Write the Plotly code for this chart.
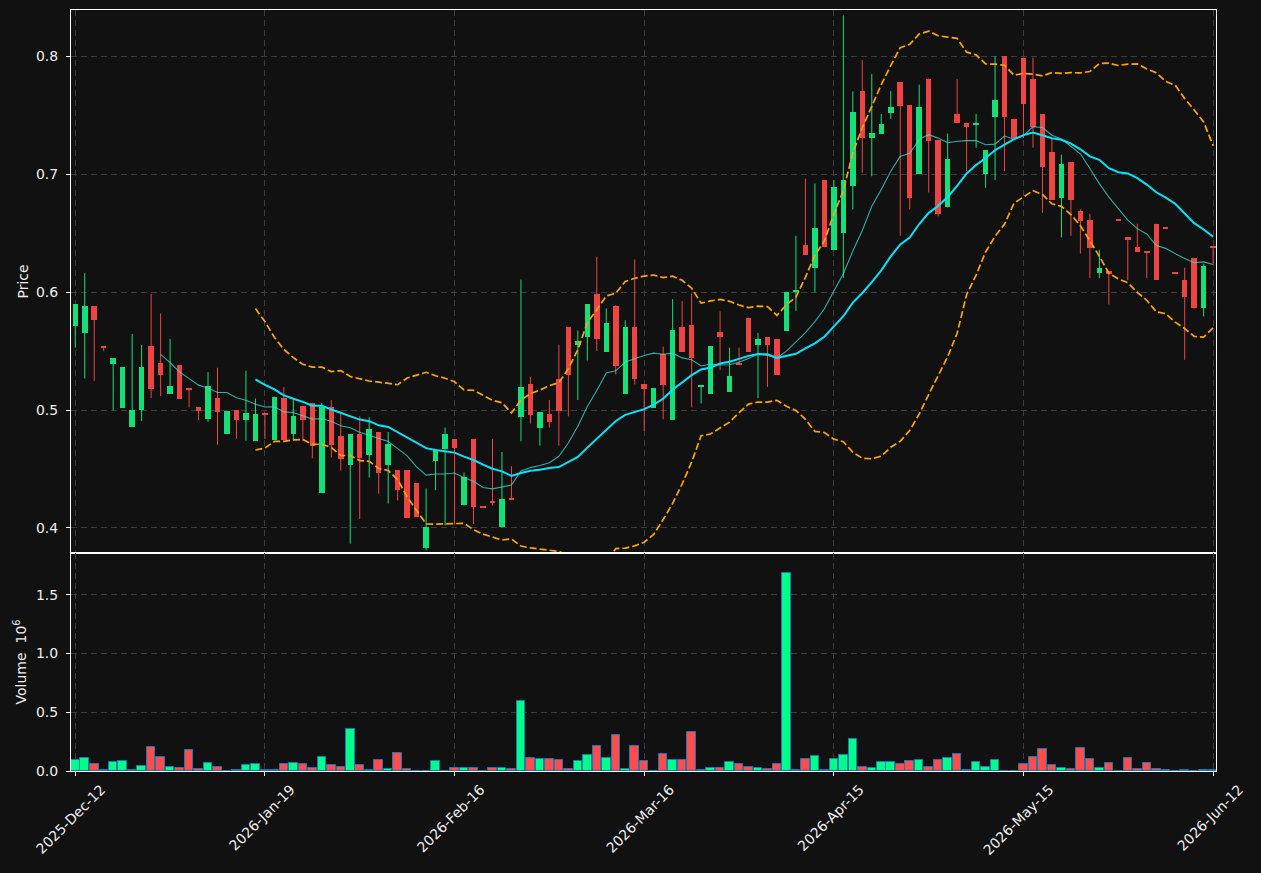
import pandas as pd
import plotly.graph_objects as go
from plotly.subplots import make_subplots

tick_index = [0, 20, 40, 60, 80, 100, 120]
tick_labels = ["2025-Dec-12", "2026-Jan-19", "2026-Feb-16", "2026-Mar-16",
               "2026-Apr-15", "2026-May-15", "2026-Jun-12"]

opens = [0.5715, 0.5657, 0.5882, 0.5537, 0.5392, 0.5018, 0.4856, 0.4997, 0.5541, 0.5400,
         0.5138, 0.5379, 0.5184, 0.5022, 0.4926, 0.5101, 0.4798, 0.4997, 0.4918, 0.4739,
         0.4966, 0.4748, 0.5101, 0.4798, 0.5038, 0.5059, 0.4295, 0.5022, 0.4781, 0.4532,
         0.4798, 0.4615, 0.4814, 0.4532, 0.4490, 0.4490, 0.4378, 0.3826, 0.4565, 0.4673,
         0.4752, 0.4191, 0.4752, 0.4179, 0.4229, 0.4004, 0.4253, 0.4943, 0.5217, 0.4847,
         0.4964, 0.5263, 0.5703, 0.5549, 0.5616, 0.5985, 0.5495, 0.5882, 0.5138, 0.5703,
         0.5217, 0.5018, 0.5474, 0.4918, 0.5703, 0.5720, 0.5196, 0.5138, 0.5662, 0.5155,
         0.5392, 0.5782, 0.5549, 0.5620, 0.5603, 0.5670, 0.6002, 0.6401, 0.6201, 0.6949,
         0.6355, 0.6500, 0.6899, 0.7705, 0.7302, 0.7344, 0.7522, 0.7780, 0.7585, 0.7001,
         0.7809, 0.7290, 0.6717, 0.7510, 0.7435, 0.7418, 0.7001, 0.7481, 0.8000, 0.7468,
         0.7988, 0.7809, 0.7510, 0.7186, 0.6800, 0.7099, 0.6683, 0.6608, 0.6160, 0.6181,
         0.6610, 0.6463, 0.6384, 0.6343, 0.6579, 0.6544, 0.6160, 0.6106, 0.6285, 0.5861,
         0.6386]
highs = [0.5898, 0.6160, 0.5882, 0.5537, 0.5441, 0.5362, 0.5645, 0.5553, 0.5985, 0.5819,
         0.5603, 0.5379, 0.5184, 0.5022, 0.5321, 0.5358, 0.4989, 0.4997, 0.5333, 0.5097,
         0.4966, 0.5113, 0.5196, 0.5093, 0.5038, 0.5059, 0.5059, 0.5084, 0.4989, 0.4798,
         0.4947, 0.4939, 0.4814, 0.4814, 0.4490, 0.4490, 0.4378, 0.4336, 0.4665, 0.4851,
         0.4752, 0.4469, 0.4752, 0.4179, 0.4752, 0.4644, 0.4523, 0.6106, 0.5279, 0.4980,
         0.5084, 0.5553, 0.5703, 0.5674, 0.5898, 0.6297, 0.5861, 0.5890, 0.5761, 0.6276,
         0.5217, 0.5184, 0.5537, 0.5940, 0.5923, 0.5985, 0.5209, 0.5541, 0.5836, 0.5528,
         0.5528, 0.5782, 0.5653, 0.5620, 0.5603, 0.6002, 0.6476, 0.6962, 0.6920, 0.6949,
         0.6949, 0.8345, 0.7701, 0.7967, 0.7850, 0.7510, 0.7705, 0.7780, 0.7585, 0.7759,
         0.7809, 0.7290, 0.7344, 0.7805, 0.7435, 0.7510, 0.7203, 0.8000, 0.8000, 0.7468,
         0.7988, 0.7988, 0.7510, 0.7306, 0.7165, 0.7099, 0.6700, 0.6663, 0.6359, 0.6181,
         0.6610, 0.6463, 0.6579, 0.6343, 0.6579, 0.6544, 0.6160, 0.6206, 0.6285, 0.6239,
         0.6386]
lows = [0.5529, 0.5267, 0.5246, 0.5500, 0.4997, 0.5018, 0.4856, 0.4906, 0.5101, 0.5117,
        0.5138, 0.5097, 0.5022, 0.4914, 0.4901, 0.4706, 0.4798, 0.4756, 0.4739, 0.4739,
        0.4753, 0.4748, 0.4748, 0.4739, 0.4739, 0.4590, 0.4295, 0.4598, 0.4486, 0.3867,
        0.4075, 0.4428, 0.4291, 0.4208, 0.4233, 0.4083, 0.4091, 0.3809, 0.4320, 0.4021,
        0.4033, 0.4191, 0.4033, 0.4175, 0.4191, 0.4004, 0.4245, 0.4735, 0.4885, 0.4698,
        0.4851, 0.4698, 0.4947, 0.5084, 0.5420, 0.5500, 0.5495, 0.5300, 0.5138, 0.5217,
        0.4822, 0.5018, 0.4922, 0.4918, 0.5495, 0.5022, 0.5055, 0.5138, 0.5337, 0.5155,
        0.5383, 0.5495, 0.5101, 0.5196, 0.5300, 0.5670, 0.5840, 0.6318, 0.5998, 0.6380,
        0.6355, 0.6118, 0.6700, 0.7011, 0.6982, 0.7344, 0.7468, 0.6476, 0.6700, 0.7001,
        0.6845, 0.6642, 0.6717, 0.7435, 0.7024, 0.7223, 0.6883, 0.6949, 0.7024, 0.7306,
        0.7306, 0.7223, 0.6671, 0.6783, 0.6463, 0.6476, 0.6326, 0.6118, 0.6118, 0.5894,
        0.6604, 0.6102, 0.6339, 0.6118, 0.6102, 0.6538, 0.6156, 0.5425, 0.5861, 0.5794,
        0.6240]
closes = [0.5898, 0.5882, 0.5761, 0.5530, 0.5441, 0.5362, 0.4997, 0.5362, 0.5180, 0.5300,
          0.5200, 0.5097, 0.5176, 0.4993, 0.5200, 0.4984, 0.4989, 0.4918, 0.4972, 0.4964,
          0.4960, 0.5113, 0.4748, 0.4947, 0.4918, 0.4698, 0.5022, 0.4706, 0.4581, 0.4798,
          0.4590, 0.4835, 0.4469, 0.4710, 0.4320, 0.4083, 0.4091, 0.4008, 0.4665, 0.4798,
          0.4677, 0.4436, 0.4174, 0.4175, 0.4208, 0.4249, 0.4245, 0.5196, 0.4960, 0.4980,
          0.4901, 0.4989, 0.5300, 0.5587, 0.5898, 0.5599, 0.5736, 0.5375, 0.5703, 0.5259,
          0.5176, 0.5184, 0.5213, 0.5678, 0.5495, 0.5437, 0.5209, 0.5541, 0.5620, 0.5288,
          0.5383, 0.5495, 0.5599, 0.5549, 0.5300, 0.6002, 0.6015, 0.6318, 0.6546, 0.6380,
          0.6887, 0.6949, 0.7526, 0.7302, 0.7348, 0.7423, 0.7568, 0.7576, 0.6800, 0.7568,
          0.7281, 0.6658, 0.7128, 0.7435, 0.7402, 0.7435, 0.7203, 0.7630, 0.7481, 0.7306,
          0.7593, 0.7398, 0.7061, 0.6783, 0.7082, 0.6783, 0.6604, 0.6376, 0.6206, 0.6156,
          0.6604, 0.6442, 0.6339, 0.6335, 0.6102, 0.6538, 0.6156, 0.5956, 0.5861, 0.6222,
          0.6380]
volumes = [92000, 109000, 59000, 8000, 75000, 84000, 8000, 42000, 201000, 117000,
           38000, 29000, 176000, 21000, 67000, 38000, 4000, 13000, 50000, 59000,
           5000, 5000, 59000, 67000, 59000, 29000, 117000, 50000, 38000, 360000,
           50000, 13000, 92000, 21000, 151000, 21000, 3000, 4000, 84000, 3000,
           29000, 29000, 29000, 3000, 29000, 29000, 21000, 599000, 109000, 100000,
           100000, 92000, 21000, 84000, 134000, 209000, 109000, 306000, 21000, 209000,
           84000, 4000, 142000, 92000, 92000, 331000, 8000, 29000, 29000, 75000,
           59000, 38000, 29000, 21000, 59000, 1688000, 8000, 100000, 126000, 8000,
           100000, 134000, 272000, 38000, 29000, 75000, 75000, 59000, 84000, 92000,
           38000, 92000, 109000, 142000, 8000, 75000, 38000, 92000, 4000, 4000,
           59000, 117000, 184000, 50000, 29000, 21000, 193000, 100000, 29000, 67000,
           4000, 109000, 21000, 67000, 21000, 8000, 2000, 13000, 4000, 13000,
           8000]

BG = "#111111"
UP = "#14e07a"
DOWN = "#ef4444"
VUP = "#00ff88"
VDOWN = "#ff4d4d"
GRID = "#3d3d3d"
TXT = "#eeeeee"

n = len(closes)
idx = list(range(n))
cs = pd.Series(closes)
sma10 = cs.rolling(10).mean()
sma20 = cs.rolling(20).mean()
std20 = cs.rolling(20).std(ddof=0)
bb_up = sma20 + 2 * std20
bb_lo = sma20 - 2 * std20

up = [c >= o for o, c in zip(opens, closes)]

fig = make_subplots(rows=2, cols=1, shared_xaxes=True, vertical_spacing=0)

# wicks
for flag, col in ((True, UP), (False, DOWN)):
    xs, ys = [], []
    for i in idx:
        if up[i] == flag:
            xs += [i, i, None]
            ys += [lows[i], highs[i], None]
    fig.add_trace(go.Scatter(x=xs, y=ys, mode="lines", line=dict(color=col, width=1),
                             hoverinfo="skip", showlegend=False), row=1, col=1)

# bodies
bases = [min(o, c) for o, c in zip(opens, closes)]
heights = [max(abs(c - o), 0.001) for o, c in zip(opens, closes)]
fig.add_trace(go.Bar(x=idx, y=heights, base=bases, width=0.58,
                     marker=dict(color=[UP if u else DOWN for u in up], line=dict(width=0)),
                     showlegend=False), row=1, col=1)

# indicators
fig.add_trace(go.Scatter(x=idx, y=sma10, mode="lines",
                         line=dict(color="rgba(64,224,208,0.75)", width=1.1),
                         showlegend=False), row=1, col=1)
fig.add_trace(go.Scatter(x=idx, y=sma20, mode="lines",
                         line=dict(color="#00e5ff", width=2),
                         showlegend=False), row=1, col=1)
for band in (bb_up, bb_lo):
    fig.add_trace(go.Scatter(x=idx, y=band, mode="lines",
                             line=dict(color="#ffa500", width=1.7, dash="7px,3px"),
                             showlegend=False), row=1, col=1)

# volume
vol_m = [v / 1e6 for v in volumes]
fig.add_trace(go.Bar(x=idx, y=vol_m, width=0.9,
                     marker=dict(color=[VUP if u else VDOWN for u in up],
                                 line=dict(color="#1f77b4", width=1)),
                     showlegend=False), row=2, col=1)

axis_common = dict(showline=True, mirror=True, linecolor="white", linewidth=1,
                   gridcolor=GRID, griddash="6px,4px", gridwidth=1, zeroline=False,
                   tickfont=dict(family="DejaVu Sans", size=14, color=TXT),
                   ticks="outside", ticklen=4, tickcolor="white")

fig.update_layout(
    width=1261, height=873,
    margin=dict(l=71, r=45, t=10, b=102),
    paper_bgcolor=BG, plot_bgcolor=BG,
    barmode="overlay", bargap=0,
    font=dict(family="DejaVu Sans", size=14, color=TXT),
    showlegend=False,
)
fig.update_xaxes(**axis_common, range=[-0.45, 120.3], tickmode="array",
                 tickvals=tick_index, ticktext=tick_labels)
fig.update_xaxes(showticklabels=False, ticks="", row=1, col=1)
fig.update_xaxes(tickangle=-45, ticklabelshift=26, row=2, col=1)
fig.update_yaxes(**axis_common, ticklabelstandoff=5)
fig.update_yaxes(domain=[0.2865, 1.0], range=[0.3788, 0.8391], tickvals=[0.4, 0.5, 0.6, 0.7, 0.8],
                 tickformat=".1f", title=dict(text="Price", standoff=4,
                                              font=dict(family="DejaVu Sans", size=14, color=TXT)),
                 row=1, col=1)
fig.update_yaxes(domain=[0.0, 0.2865], range=[0, 1.857], tickvals=[0.0, 0.5, 1.0, 1.5],
                 tickformat=".1f", title=dict(text="Volume  10<sup>6</sup>", standoff=6,
                                              font=dict(family="DejaVu Sans", size=14, color=TXT)),
                 row=2, col=1)

fig.write_html("out.html")
